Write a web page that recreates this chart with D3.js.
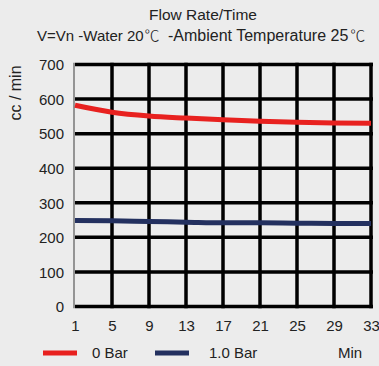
<!DOCTYPE html>
<html>
<head>
<meta charset="utf-8">
<script src="https://cdn.jsdelivr.net/npm/d3@7"></script>
<style>
    body { margin: 0; background: #ececec; }
    svg { display: block; font-family: "Liberation Sans", Arial, sans-serif; }
</style>
</head>
<body>
<div id="chart"></div>
<script>
var minutes = [1, 5, 9, 13, 17, 21, 25, 29, 33];
var bar0 = [582, 562, 551, 545, 540, 536, 533, 531, 530];
var bar1 = [249, 248, 246, 244, 242, 242, 241, 240, 240];
var yTicks = [0, 100, 200, 300, 400, 500, 600, 700];
var seriesNames = ["0 Bar", "1.0 Bar"];
var seriesColors = ["#e8211f", "#23305f"];

var width = 379, height = 366;

var xScale = d3.scaleLinear().domain([1, 33]).range([75, 371]);
var yScale = d3.scaleLinear().domain([0, 700]).range([306.5, 64.5]);

var svg = d3.select("#chart")
    .append("svg")
    .attr("width", width)
    .attr("height", height);

svg.append("rect")
    .attr("width", width)
    .attr("height", height)
    .attr("fill", "#ececec");

// titles
svg.append("text")
    .attr("x", 203)
    .attr("y", 20)
    .attr("text-anchor", "middle")
    .style("font-size", "15.5px")
    .attr("fill", "#222")
    .text("Flow Rate/Time");

var sub = svg.append("text")
    .attr("x", 37)
    .attr("y", 41)
    .style("font-size", "15px")
    .attr("fill", "#222");
sub.append("tspan").text("V=Vn -Water 20");
sub.append("tspan").attr("dx", 1).style("font-family", "'Noto Sans CJK SC'").style("font-weight", 300).text("\u2103");
sub.append("tspan").attr("dx", 4).style("font-size", "16px").text(" -Ambient Temperature 25");
sub.append("tspan").attr("dx", 2).style("font-family", "'Noto Sans CJK SC'").style("font-weight", 300).text("\u2103");

// grid
svg.append("g")
    .selectAll("line")
    .data(yTicks)
    .enter()
    .append("line")
    .attr("x1", xScale(1))
    .attr("x2", xScale(33) + 2)
    .attr("y1", function (d) { return yScale(d); })
    .attr("y2", function (d) { return yScale(d); })
    .attr("stroke", "#000")
    .attr("stroke-width", 3.5);

svg.append("g")
    .selectAll("line")
    .data(minutes.slice(1))
    .enter()
    .append("line")
    .attr("x1", function (d) { return xScale(d); })
    .attr("x2", function (d) { return xScale(d); })
    .attr("y1", yScale(700) - 1.75)
    .attr("y2", yScale(0) + 1.75)
    .attr("stroke", "#000")
    .attr("stroke-width", 3.5);

svg.append("line")
    .attr("x1", xScale(1) - 1)
    .attr("x2", xScale(1) - 1)
    .attr("y1", yScale(700) - 1.75)
    .attr("y2", yScale(0) + 1.75)
    .attr("stroke", "#777")
    .attr("stroke-width", 1.5);

// axis labels
var yAxis = d3.axisLeft(yScale).tickValues(yTicks).tickSize(0).tickPadding(0);
var yG = svg.append("g")
    .attr("transform", "translate(64,0)")
    .call(yAxis);

var xAxis = d3.axisBottom(xScale).tickValues(minutes).tickSize(0).tickPadding(0);
var xG = svg.append("g")
    .attr("transform", "translate(0,320)")
    .call(xAxis);

d3.selectAll("path.domain").remove();
svg.selectAll(".tick text")
    .style("font-size", "15px")
    .style("font-family", "'Liberation Sans', Arial, sans-serif")
    .attr("fill", "#222");
yG.selectAll(".tick text").attr("dy", "0.35em");
xG.selectAll(".tick text").attr("dy", "0.71em");

svg.append("text")
    .attr("transform", "translate(21,93) rotate(-90)")
    .attr("text-anchor", "middle")
    .style("font-size", "16px")
    .attr("fill", "#222")
    .text("cc / min");

// lines
var line = d3.line()
    .x(function (d) { return xScale(d[0]); })
    .y(function (d) { return yScale(d[1]); })
    .curve(d3.curveMonotoneX);

[bar0, bar1].forEach(function (vals, i) {
    svg.append("path")
        .attr("d", line(minutes.map(function (m, j) { return [m, vals[j]]; })))
        .attr("fill", "none")
        .attr("stroke", seriesColors[i])
        .attr("stroke-width", 5);
});

// legend
var legendX = [43, 155];
var legend = svg.append("g");
seriesNames.forEach(function (name, i) {
    legend.append("line")
        .attr("x1", legendX[i])
        .attr("x2", legendX[i] + 34)
        .attr("y1", 353)
        .attr("y2", 353)
        .attr("stroke", seriesColors[i])
        .attr("stroke-width", 5);
    legend.append("text")
        .attr("x", legendX[i] + (i === 0 ? 49 : 54))
        .attr("y", 358)
        .style("font-size", "15px")
        .attr("fill", "#222")
        .text(name);
});

legend.append("text")
    .attr("x", 338)
    .attr("y", 358)
    .style("font-size", "15px")
    .attr("fill", "#222")
    .text("Min");
</script>
</body>
</html>
